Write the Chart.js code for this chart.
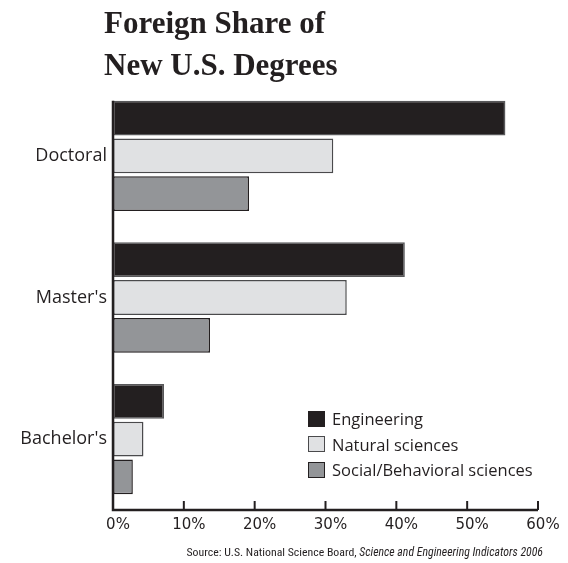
<!DOCTYPE html>
<html>
<head>
<meta charset="utf-8">
<script src="https://cdn.jsdelivr.net/npm/chart.js@4/dist/chart.umd.min.js"></script>
<style>
  html, body { margin: 0; padding: 0; background: #fff; }
  #wrap { position: relative; width: 568px; height: 563px; }
  #title { position: absolute; left: 104px; top: 2px; font-family: "Liberation Serif", serif; font-weight: bold; font-size: 31px; line-height: 42px; color: #231f20; margin: 0; }
  #source { position: absolute; right: 25px; top: 545px; font-family: "Liberation Sans Narrow", "Roboto Condensed", "Liberation Sans", sans-serif; font-size: 11.8px; color: #231f20; white-space: nowrap; }
  #legend { position: absolute; left: 308px; top: 406px; font-family: "Open Sans", sans-serif; font-weight: 500; font-size: 16.5px; color: #231f20; }
  .row { display: flex; align-items: center; height: 25.5px; }
  .box { width: 15px; height: 14px; border: 1.5px solid #231f20; margin-right: 7px; }
  canvas { position: absolute; left: 0; top: 0; }
</style>
</head>
<body>
<div id="wrap">
  <canvas id="c" width="568" height="563"></canvas>
  <div id="title">Foreign Share of<br>New U.S. Degrees</div>
  <div id="legend"></div>
  <div id="source">Source: U.S. National Science Board, <i>Science and Engineering Indicators 2006</i></div>
</div>
<script>
const categories = ["Doctoral", "Master's", "Bachelor's"];
const seriesNames = ["Engineering", "Natural sciences", "Social/Behavioral sciences"];
const engineering = [55.4, 41.2, 7.2];
const naturalSciences = [31.1, 33.0, 4.3];
const socialSciences = [19.2, 13.7, 2.8];
const tickValues = [0, 10, 20, 30, 40, 50, 60];

const fills = ["#231f20", "#e0e1e3", "#939598"];
const borders = ["#58585a", "#4a4a4c", "#231f20"];
const values = [engineering, naturalSciences, socialSciences];

const legend = document.getElementById('legend');
seriesNames.forEach((n, i) => {
  const row = document.createElement('div'); row.className = 'row';
  const b = document.createElement('div'); b.className = 'box';
  b.style.background = fills[i]; b.style.borderColor = i === 0 ? fills[0] : borders[i];
  const t = document.createElement('span'); t.textContent = n;
  row.appendChild(b); row.appendChild(t); legend.appendChild(row);
});

const axisPlugin = {
  id: 'axisPlugin',
  afterDatasetsDraw(chart) {
    const ctx = chart.ctx, x = chart.scales.x, ca = chart.chartArea;
    const first = chart.getDatasetMeta(0).data[0];
    const topY = first.y - first.height / 2;
    ctx.save();
    ctx.strokeStyle = '#231f20';
    ctx.lineWidth = 2.5;
    ctx.beginPath();
    ctx.moveTo(ca.left, topY);
    ctx.lineTo(ca.left, ca.bottom);
    ctx.lineTo(x.getPixelForValue(60), ca.bottom);
    ctx.stroke();
    ctx.lineWidth = 2;
    tickValues.forEach(v => {
      const px = x.getPixelForValue(v);
      ctx.beginPath();
      ctx.moveTo(px, ca.bottom);
      ctx.lineTo(px, ca.bottom - 9);
      ctx.stroke();
    });
    ctx.restore();
  }
};

new Chart(document.getElementById('c'), {
  type: 'bar',
  data: {
    labels: categories,
    datasets: seriesNames.map((n, i) => ({
      label: n,
      data: values[i],
      backgroundColor: fills[i],
      borderColor: borders[i],
      borderWidth: 1.5,
      borderSkipped: false,
      categoryPercentage: 0.8,
      barPercentage: 0.92
    }))
  },
  options: {
    indexAxis: 'y',
    responsive: false,
    animation: false,
    layout: { padding: { top: 85, right: 30, bottom: 23, left: 0 } },
    plugins: { legend: { display: false }, tooltip: { enabled: false }, title: { display: false } },
    scales: {
      x: {
        min: 0, max: 60,
        afterBuildTicks(s) { s.ticks = tickValues.map(v => ({ value: v })); },
        afterFit(s) { s.height = 30; },
        grid: { display: false, drawTicks: false },
        border: { display: false },
        ticks: {
          padding: 6,
          labelOffset: 5,
          color: '#231f20',
          font: { family: 'DejaVu Sans', size: 15 },
          callback: v => v + '%'
        }
      },
      y: {
        afterFit(s) { s.width = 113; },
        grid: { display: false, drawTicks: false },
        border: { display: false },
        ticks: {
          padding: 6,
          color: '#231f20',
          font: { family: 'Open Sans', size: 18, weight: '500' }
        }
      }
    }
  },
  plugins: [axisPlugin]
});
</script>
</body>
</html>
